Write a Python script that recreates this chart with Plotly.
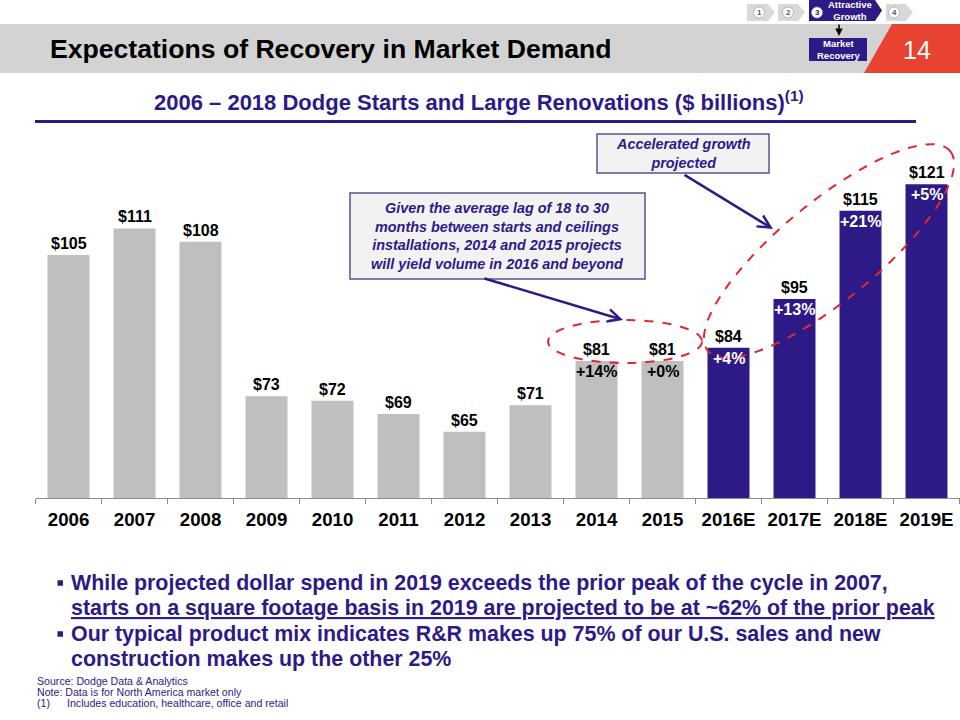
import math
import plotly.graph_objects as go

# ---------------- data ----------------
categories = ["2006", "2007", "2008", "2009", "2010", "2011", "2012", "2013",
              "2014", "2015", "2016E", "2017E", "2018E", "2019E"]
values = [105, 111, 108, 73, 72, 69, 65, 71, 81, 81, 84, 95, 115, 121]
value_labels = ["$105", "$111", "$108", "$73", "$72", "$69", "$65", "$71",
                "$81", "$81", "$84", "$95", "$115", "$121"]
growth_labels = ["", "", "", "", "", "", "", "", "+14%", "+0%", "+4%", "+13%", "+21%", "+5%"]
projected = [False] * 10 + [True] * 4

GRAY = "#BFBFBF"
PURPLE = "#2E1A87"
RED = "#E0282F"
FONT = "Liberation Sans, Arial, sans-serif"

W, H = 960, 720


def X(px):
    return px / W


def Y(py):
    return 1 - py / H


# ---------------- figure ----------------
fig = go.Figure()
fig.add_trace(go.Bar(
    x=categories, y=values,
    marker=dict(color=[PURPLE if p else GRAY for p in projected], line=dict(width=0)),
    hoverinfo="x+y",
))

base_px, top_px = 498, 140
px_per_unit = 4.42
fig.update_layout(
    width=W, height=H,
    margin=dict(l=0, r=0, t=0, b=0),
    paper_bgcolor="white", plot_bgcolor="white",
    showlegend=False,
    bargap=0.364,
    font=dict(family=FONT),
    xaxis=dict(
        type="category",
        categoryorder="array", categoryarray=categories,
        range=[-0.5, len(categories) - 0.5], autorange=False,
        domain=[X(35.5), X(959.5)],
        showgrid=False, zeroline=False,
        showline=True, linecolor="#8C8C8C", linewidth=1,
        ticks="outside", tickson="boundaries", ticklen=5, tickcolor="#8C8C8C",
        ticklabelstandoff=5,
        tickfont=dict(size=18.67, color="black", family=FONT),
        tickprefix="<b>", ticksuffix="</b>", tickangle=0,
        fixedrange=True,
    ),
    yaxis=dict(
        domain=[Y(base_px), Y(top_px)],
        range=[50, 50 + (base_px - top_px) / px_per_unit], autorange=False,
        visible=False, fixedrange=True,
    ),
)

annotations = []
shapes = []

# value labels & growth labels (data coordinates; x as category index)
for i, (v, lab, g, p) in enumerate(zip(values, value_labels, growth_labels, projected)):
    annotations.append(dict(x=i, y=v, xref="x", yref="y", text="<b>%s</b>" % lab,
                            showarrow=False, yanchor="bottom", yshift=1,
                            font=dict(size=16, color="black", family=FONT)))
    if g:
        annotations.append(dict(x=i, y=v, xref="x", yref="y", text="<b>%s</b>" % g,
                                showarrow=False, yanchor="top", yshift=0,
                                font=dict(size=16, color="white" if p else "black", family=FONT)))

# ---------------- header ----------------
shapes.append(dict(type="rect", xref="paper", yref="paper", x0=X(0), x1=X(960), y0=Y(73), y1=Y(24),
                   fillcolor="#D3D3D3", line=dict(width=0), layer="below"))
shapes.append(dict(type="path", xref="paper", yref="paper",
                   path="M %f,%f L %f,%f L %f,%f L %f,%f Z" % (X(892), Y(24), X(960), Y(24), X(960), Y(73), X(864), Y(73)),
                   fillcolor="#E84230", line=dict(width=0), layer="below"))
annotations.append(dict(x=X(917), y=Y(50), xref="paper", yref="paper", text="14", showarrow=False,
                        xanchor="center", yanchor="middle", font=dict(size=25, color="white", family=FONT)))
annotations.append(dict(x=X(48), y=Y(49), xref="paper", yref="paper",
                        text="<b>Expectations of Recovery in Market Demand</b>", showarrow=False,
                        xanchor="left", yanchor="middle", font=dict(size=26.6, color="black", family=FONT)))


# nav chevrons
def chevron(x0, x1, y0, y1, tip, color):
    ym = (y0 + y1) / 2
    return dict(type="path", xref="paper", yref="paper",
                path="M %f,%f L %f,%f L %f,%f L %f,%f L %f,%f Z" % (
                    X(x0), Y(y0), X(x1 - tip), Y(y0), X(x1), Y(ym), X(x1 - tip), Y(y1), X(x0), Y(y1)),
                fillcolor=color, line=dict(width=0))


for (x0, x1) in [(747, 775), (778, 805), (886, 913)]:
    shapes.append(chevron(x0, x1, 4, 21, 7, "#D9D9D9"))
shapes.append(chevron(809, 882, 0, 21, 7, PURPLE))
for cx, num, col in [(759, "1", "#595959"), (788, "2", "#595959"), (894, "4", "#595959"), (817, "3", PURPLE)]:
    shapes.append(dict(type="circle", xref="paper", yref="paper", x0=X(cx - 5.5), x1=X(cx + 5.5),
                       y0=Y(18), y1=Y(7), fillcolor="white", line=dict(color="#A6A6A6", width=0.8)))
    annotations.append(dict(x=X(cx), y=Y(12.5), xref="paper", yref="paper", text="<b>%s</b>" % num,
                            showarrow=False, xanchor="center", yanchor="middle",
                            font=dict(size=8, color=col, family=FONT)))
annotations.append(dict(x=X(850), y=Y(11), xref="paper", yref="paper", text="<b>Attractive<br>Growth</b>",
                        showarrow=False, xanchor="center", yanchor="middle",
                        font=dict(size=9.5, color="white", family=FONT)))
shapes.append(dict(type="rect", xref="paper", yref="paper", x0=X(809), x1=X(867), y0=Y(61), y1=Y(38),
                   fillcolor=PURPLE, line=dict(width=0)))
annotations.append(dict(x=X(838), y=Y(49.5), xref="paper", yref="paper", text="<b>Market<br>Recovery</b>",
                        showarrow=False, xanchor="center", yanchor="middle",
                        font=dict(size=9.5, color="white", family=FONT)))
annotations.append(dict(x=X(839), y=Y(36), xref="paper", yref="paper", text="", showarrow=True,
                        ax=0, ay=-13, arrowhead=2, arrowsize=1, arrowwidth=1.5, arrowcolor="black"))

# ---------------- subtitle ----------------
annotations.append(dict(x=X(479), y=Y(101), xref="paper", yref="paper",
                        text="<b>2006 – 2018 Dodge Starts and Large Renovations ($ billions)<sup>(1)</sup></b>",
                        showarrow=False, xanchor="center", yanchor="middle",
                        font=dict(size=22, color=PURPLE, family=FONT)))
shapes.append(dict(type="line", xref="paper", yref="paper", x0=X(35), x1=X(916), y0=Y(121.5), y1=Y(121.5),
                   line=dict(color=PURPLE, width=3)))

# ---------------- callouts ----------------
shapes.append(dict(type="rect", xref="paper", yref="paper", x0=X(350), x1=X(645), y0=Y(279), y1=Y(193),
                   fillcolor="#F2F2F2", line=dict(color="#5B5294", width=1.5)))
annotations.append(dict(x=X(497.5), y=Y(236), xref="paper", yref="paper",
                        text="<b><i>Given the average lag of 18 to 30<br>months between starts and ceilings<br>"
                             "installations, 2014 and 2015 projects<br>will yield volume in 2016 and beyond</i></b>",
                        showarrow=False, xanchor="center", yanchor="middle",
                        font=dict(size=14.4, color=PURPLE, family=FONT)))
shapes.append(dict(type="rect", xref="paper", yref="paper", x0=X(597), x1=X(769), y0=Y(173), y1=Y(134),
                   fillcolor="#F2F2F2", line=dict(color="#5B5294", width=1.5)))
annotations.append(dict(x=X(683), y=Y(153.5), xref="paper", yref="paper",
                        text="<b><i>Accelerated growth<br>projected</i></b>",
                        showarrow=False, xanchor="center", yanchor="middle",
                        font=dict(size=14.4, color=PURPLE, family=FONT)))
# arrows
annotations.append(dict(x=X(623), y=Y(320), xref="paper", yref="paper", text="", showarrow=True,
                        ax=483 - 623, ay=278 - 320, arrowhead=5, arrowsize=1, arrowwidth=2.5, arrowcolor=PURPLE))
annotations.append(dict(x=X(773), y=Y(229), xref="paper", yref="paper", text="", showarrow=True,
                        ax=683 - 773, ay=174 - 229, arrowhead=5, arrowsize=1, arrowwidth=2.5, arrowcolor=PURPLE))

# dashed ellipses
shapes.append(dict(type="circle", xref="paper", yref="paper", x0=X(548), x1=X(702), y0=Y(363), y1=Y(320),
                   line=dict(color=RED, width=2, dash="dash")))
cx, cy, a, b, th = 829, 251, 157, 49, math.radians(39.5)
pts = []
for k in range(121):
    t = 2 * math.pi * k / 120
    u, v = a * math.cos(t), b * math.sin(t)
    px = cx + u * math.cos(th) + v * math.sin(th)
    py = cy - u * math.sin(th) + v * math.cos(th)
    pts.append("%f,%f" % (X(px), Y(py)))
shapes.append(dict(type="path", xref="paper", yref="paper", path="M " + " L ".join(pts) + " Z",
                   line=dict(color=RED, width=2, dash="dash")))

# ---------------- bullets ----------------
bullet_lines = [
    (583, "While projected dollar spend in 2019 exceeds the prior peak of the cycle in 2007,", False),
    (607.5, "starts on a square footage basis in 2019 are projected to be at ~62% of the prior peak", True),
    (634, "Our typical product mix indicates R&R makes up 75% of our U.S. sales and new", False),
    (658.5, "construction makes up the other 25%", False),
]
for yy, txt, ul in bullet_lines:
    t = "<b>%s</b>" % txt
    if ul:
        t = "<u>%s</u>" % t
    annotations.append(dict(x=X(69), y=Y(yy), xref="paper", yref="paper", text=t, showarrow=False,
                            xanchor="left", yanchor="middle", font=dict(size=21.4, color=PURPLE, family=FONT)))
for yy in (583, 634):
    shapes.append(dict(type="rect", xref="paper", yref="paper", x0=X(57.5), x1=X(63), y0=Y(yy + 2.75),
                       y1=Y(yy - 2.75), fillcolor=PURPLE, line=dict(width=0)))

# ---------------- footnotes ----------------
for yy, txt, xx in [(681, "Source: Dodge Data & Analytics", 35), (692, "Note: Data is for North America market only", 35),
                    (703, "(1)", 35), (703, "Includes education, healthcare, office and retail", 65)]:
    annotations.append(dict(x=X(xx), y=Y(yy), xref="paper", yref="paper", text=txt, showarrow=False,
                            xanchor="left", yanchor="middle", font=dict(size=10.6, color=PURPLE, family=FONT)))

fig.update_layout(annotations=annotations, shapes=shapes)
fig.write_html("out.html", config=dict(displayModeBar=False),
               post_script="document.body.style.margin='0';document.body.style.overflow='hidden';")
